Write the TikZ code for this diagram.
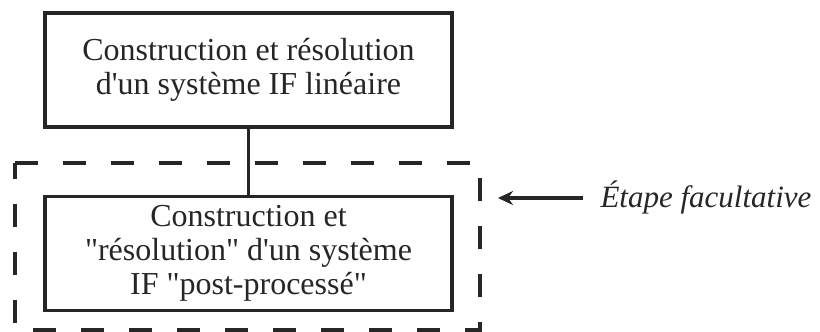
\documentclass[tikz,border=0pt]{standalone}
\usepackage{fontspec}
\setmainfont{Liberation Serif}
\usetikzlibrary{positioning,arrows.meta}
\tikzset{
 stepbox/.style={draw, line width=3.5pt, minimum width=407pt, minimum height=114pt, align=center, inner sep=0pt},
 optframe/.style={line width=3.5pt, dash pattern=on 23pt off 25pt},
}
\begin{document}
\begin{tikzpicture}[x=1pt, y=1pt, font=\fontsize{32}{34}\selectfont, line join=miter, >={Stealth[length=15pt,width=14pt]}, color=black!85]
 \useasboundingbox (0,0) rectangle (820,332);
 \node[stepbox] (lin) at (248.5,262) {Construction et résolution\\d\textquotesingle un système IF linéaire};
 \node[stepbox, below=66pt of lin] (post) {Construction et\\\textquotedbl résolution\textquotedbl{} d\textquotesingle un système\\IF \textquotedbl post-processé\textquotedbl};
 \draw[line width=3.5pt] (lin) -- (post);
 % etape facultative
 \draw[optframe] (15,169) -- (480,169) -- (480,2) -- (15,2) -- cycle;
 \coordinate (opt) at (498,134);
 \node[anchor=west, font=\fontsize{31}{34}\selectfont\itshape] (note) at (597,134) {Étape facultative};
 \draw[->, line width=3.5pt] ([xshift=-14pt]note.west) -- (opt);
\end{tikzpicture}
\end{document}
